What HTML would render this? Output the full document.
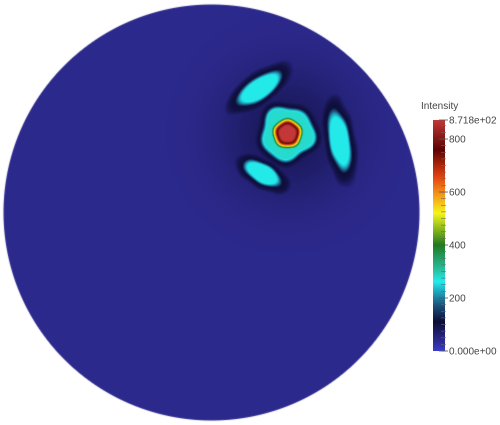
<!DOCTYPE html>
<html><head><meta charset="utf-8"><style>
html,body{margin:0;padding:0;background:#fff;width:500px;height:425px;overflow:hidden}
#wrap{position:relative;width:500px;height:425px}
canvas{position:absolute;left:0;top:0}
svg{position:absolute;left:0;top:0}
text{font-family:"Liberation Sans",sans-serif;font-size:10px;fill:#444}
</style></head><body>
<div id="wrap">
<canvas id="field" width="500" height="425"></canvas>
<svg id="bar" width="500" height="425"></svg>
</div>
<script>
// data
const rangeMin = 0;
const rangeMax = 871.8;
const tickValues = [0, 200, 400, 600, 800, 871.8];
const tickLabels = ["0.000e+00", "200", "400", "600", "800", "8.718e+02"];
const cmapValues = [0, 40, 110, 170, 230, 262, 300, 400, 470, 520, 600, 660, 760, 871.8];
const cmapColors = ["#3b3bd0","#2c298d","#0d0d36","#1a4f7a","#1fb0c4","#22eded","#2ac4aa","#1f7a1f","#9cc21c","#f5f51a","#f28a1a","#e0400f","#5c0303","#c23838"];
const backgroundLevel = 40;
const haloPeak = 85;
const peakValue = 871.8;
const lobeValue = 265;
const plateauValue = 280;

const W=500,H=425, cx=211, cy=212, R=208;
const pk={x:287,y:133};
const lobes=[{x:259,y:88,a:29,b:12,t:-35},{x:339,y:140,a:34,b:12,t:80},{x:262,y:173,a:23,b:11,t:30}];
function hex(c){return [parseInt(c.substr(1,2),16),parseInt(c.substr(3,2),16),parseInt(c.substr(5,2),16)];}
const cmapRGB=cmapColors.map(hex);
function cmap(v){
  if(v<=cmapValues[0])return cmapRGB[0];
  for(let i=1;i<cmapValues.length;i++){
    if(v<=cmapValues[i]){const f=(v-cmapValues[i-1])/(cmapValues[i]-cmapValues[i-1]);const a=cmapRGB[i-1],b=cmapRGB[i];return [a[0]+(b[0]-a[0])*f,a[1]+(b[1]-a[1])*f,a[2]+(b[2]-a[2])*f];}
  }
  return cmapRGB[cmapRGB.length-1];
}
function ss(e0,e1,x){const t=Math.min(1,Math.max(0,(x-e0)/(e1-e0)));return t*t*(3-2*t);}
const ctx=document.getElementById('field').getContext('2d');
const img=ctx.createImageData(W,H);
for(let y=0;y<H;y++)for(let x=0;x<W;x++){
  const i=(y*W+x)*4;
  const dr=Math.hypot(x-cx,y-cy);
  if(dr>R+0.5){img.data[i]=255;img.data[i+1]=255;img.data[i+2]=255;img.data[i+3]=255;continue;}
  const d=Math.hypot(x-pk.x,y-pk.y);
  const ang=Math.atan2(y-pk.y,x-pk.x);
  let v=backgroundLevel+(haloPeak-backgroundLevel)*Math.exp(-(d*d)/(2*45*45));
  const pr=28+1.5*Math.sin(5*ang)+1.5*Math.cos(3*ang);
  v=Math.max(v,plateauValue*(1-ss(pr-5,pr+4,d)), 105*(1-ss(pr,pr+14,d)));
  for(const l of lobes){
    const t=l.t*Math.PI/180,dx=x-l.x,dy=y-l.y;
    const u=(dx*Math.cos(t)+dy*Math.sin(t))/l.a,w=(-dx*Math.sin(t)+dy*Math.cos(t))/l.b;
    const e=Math.sqrt(u*u+w*w)*(1+0.03*Math.sin(x*0.25+y*0.15));
    v=Math.max(v,lobeValue*(1-ss(0.65,1.2,e)),105*(1-ss(1,1.9,e)));
  }
  v=Math.max(v,peakValue*(1-ss(7,21,d*(1+0.03*Math.sin(5*ang)))));
  const c=cmap(v);
  const a=Math.min(1,R+0.5-dr);
  img.data[i]=c[0]*a+255*(1-a);img.data[i+1]=c[1]*a+255*(1-a);img.data[i+2]=c[2]*a+255*(1-a);img.data[i+3]=255;
}
ctx.putImageData(img,0,0);

// colorbar
const svg=document.getElementById('bar'),NS='http://www.w3.org/2000/svg';
const bx=433,bw=12,by0=351,by1=120;
function yScale(v){return by0-(v-rangeMin)/(rangeMax-rangeMin)*(by0-by1);}
const defs=document.createElementNS(NS,'defs');
const lg=document.createElementNS(NS,'linearGradient');
lg.setAttribute('id','cg');lg.setAttribute('x1','0');lg.setAttribute('y1','1');lg.setAttribute('x2','0');lg.setAttribute('y2','0');
cmapValues.forEach((v,k)=>{const s=document.createElementNS(NS,'stop');s.setAttribute('offset',(v-rangeMin)/(rangeMax-rangeMin));s.setAttribute('stop-color',cmapColors[k]);lg.appendChild(s);});
defs.appendChild(lg);svg.appendChild(defs);
const rect=document.createElementNS(NS,'rect');


rect.setAttribute('x',bx);rect.setAttribute('y',yScale(rangeMax));rect.setAttribute('width',bw);rect.setAttribute('height',yScale(rangeMin)-yScale(rangeMax));rect.setAttribute('fill','url(#cg)');
svg.appendChild(rect);
for(let v=0;v<=rangeMax;v+=25){
  const ln=document.createElementNS(NS,'line');
  
  
  ln.setAttribute('x1',bx+bw-4);ln.setAttribute('x2',bx+bw+1);ln.setAttribute('y1',yScale(v));ln.setAttribute('y2',yScale(v));ln.setAttribute('stroke','#666');ln.setAttribute('stroke-width','0.6');
  svg.appendChild(ln);
}
tickValues.forEach((v,k)=>{
  const ln=document.createElementNS(NS,'line');
  
  
  ln.setAttribute('x1',bx+bw-6);ln.setAttribute('x2',bx+bw+3);ln.setAttribute('y1',yScale(v));ln.setAttribute('y2',yScale(v));ln.setAttribute('stroke','#555');ln.setAttribute('stroke-width','0.8');
  svg.appendChild(ln);
  const t=document.createElementNS(NS,'text');
  
  
  t.setAttribute('x',bx+bw+4);t.setAttribute('y',yScale(v)+3.5);t.textContent=tickLabels[k];
  svg.appendChild(t);
});
const title=document.createElementNS(NS,'text');


title.setAttribute('x',421);title.setAttribute('y',109);title.textContent='Intensity';
svg.appendChild(title);
</script>
</body></html>
